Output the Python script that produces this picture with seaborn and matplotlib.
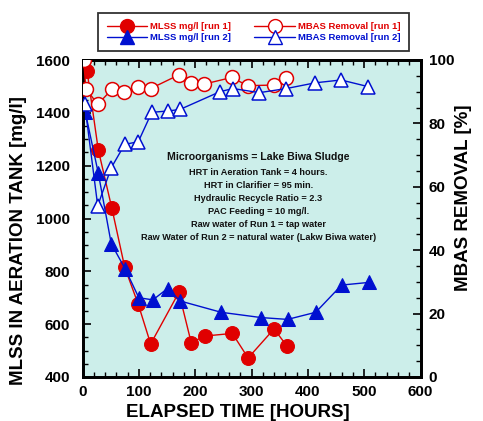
import matplotlib
matplotlib.use("Agg")
import matplotlib.pyplot as plt
import seaborn as sns
import pandas as pd
from matplotlib.ticker import MultipleLocator
from matplotlib.lines import Line2D

# ---- data ----
mlss1_t = [8, 28, 52, 75, 99, 121, 171, 193, 217, 266, 294, 340, 363]
mlss1_v = [1560, 1260, 1040, 815, 675, 525, 720, 530, 555, 565, 472, 582, 517]

mlss2_t = [5, 28, 51, 76, 100, 125, 151, 173, 246, 317, 364, 414, 460, 508]
mlss2_v = [1402, 1172, 905, 808, 700, 692, 735, 688, 645, 625, 618, 645, 748, 758]

mbas1_t = [2, 6, 27, 52, 74, 98, 121, 171, 193, 216, 265, 293, 340, 361]
mbas1_v = [100, 91, 86, 90.7, 89.8, 91.4, 91, 95.3, 92.9, 92.4, 94.5, 91.9, 92.1, 94.4]

mbas2_t = [4, 27, 51, 75, 99, 123, 151, 173, 244, 267, 314, 362, 413, 459, 507]
mbas2_v = [86, 54, 66, 73.4, 74.2, 83.5, 83.9, 84.4, 90, 91, 89.7, 91, 92.8, 93.7, 91.6]

labels = ["MLSS mg/l [run 1]", "MLSS mg/l [run 2]", "MBAS Removal [run 1]", "MBAS Removal [run 2]"]

notes = ["HRT in Aeration Tank = 4 hours.",
         "HRT in Clarifier = 95 min.",
         "Hydraulic Recycle Ratio = 2.3",
         "PAC Feeding = 10 mg/l.",
         "Raw water of Run 1 = tap water",
         "Raw Water of Run 2 = natural water (Lakw Biwa water)"]
title_note = "Microorganisms = Lake Biwa Sludge"

RED = "#E00000"
BLUE = "#0010D0"
BG = "#CCEEEA"

sns.set_style("ticks")
plt.rcParams['font.family'] = ['Liberation Sans', 'DejaVu Sans']
plt.rcParams['font.weight'] = 'bold'
plt.rcParams['text.color'] = 'black'
plt.rcParams['axes.labelcolor'] = 'black'
plt.rcParams['xtick.color'] = 'black'
plt.rcParams['ytick.color'] = 'black'

fig = plt.figure(figsize=(4.83, 4.21), dpi=100)
ax = fig.add_axes([82.5/483, 1-377/421, (420.5-82.5)/483, (377-60)/421])
ax2 = ax.twinx()
ax.set_facecolor(BG)

df1 = pd.DataFrame({"t": mlss1_t, "v": mlss1_v})
df2 = pd.DataFrame({"t": mlss2_t, "v": mlss2_v})
df3 = pd.DataFrame({"t": mbas1_t, "v": mbas1_v})
df4 = pd.DataFrame({"t": mbas2_t, "v": mbas2_v})

sns.lineplot(data=df1, x="t", y="v", ax=ax, sort=False, estimator=None, color=RED, lw=1.0,
             marker="o", markersize=10, markerfacecolor=RED, markeredgecolor=RED, zorder=3)
sns.lineplot(data=df2, x="t", y="v", ax=ax, sort=False, estimator=None, color=BLUE, lw=1.0,
             marker="^", markersize=9.5, markerfacecolor=BLUE, markeredgecolor=BLUE, zorder=4)
sns.lineplot(data=df3, x="t", y="v", ax=ax2, sort=False, estimator=None, color=RED, lw=1.0,
             marker="o", markersize=10, markerfacecolor="white", markeredgecolor=RED,
             markeredgewidth=1.1, zorder=3)
sns.lineplot(data=df4, x="t", y="v", ax=ax2, sort=False, estimator=None, color=BLUE, lw=1.0,
             marker="^", markersize=9.5, markerfacecolor="white", markeredgecolor=BLUE,
             markeredgewidth=1.1, zorder=4)

ax.set_xlim(0, 600)
ax.set_ylim(400, 1600)
ax2.set_ylim(0, 100)

ax.xaxis.set_major_locator(MultipleLocator(100))
ax.xaxis.set_minor_locator(MultipleLocator(20))
ax.yaxis.set_major_locator(MultipleLocator(200))
ax.yaxis.set_minor_locator(MultipleLocator(50))
ax2.yaxis.set_major_locator(MultipleLocator(20))
ax2.yaxis.set_minor_locator(MultipleLocator(5))

ax.tick_params(axis='x', which='both', direction='in', top=True, bottom=True)
ax.tick_params(axis='y', which='both', direction='in', left=True, right=False)
ax.tick_params(which='major', length=6, width=1.2, labelsize=11, colors='black')
ax.tick_params(axis='y', which='major', pad=9)
ax.tick_params(axis='x', which='major', pad=6)
ax.tick_params(which='minor', length=3.5, width=1.0, colors='black')
ax2.tick_params(which='major', direction='in', length=6, width=1.2, labelsize=11, pad=6, colors='black')
ax2.tick_params(which='minor', direction='in', length=3.5, width=1.0, colors='black')
for lab in ax.get_xticklabels() + ax.get_yticklabels() + ax2.get_yticklabels():
    lab.set_fontweight('bold')

for a in (ax, ax2):
    for s in a.spines.values():
        s.set_linewidth(2)
        s.set_color('black')

ax.set_xlabel("ELAPSED TIME [HOURS]", fontsize=13.5, fontweight='bold', color='black')
ax.set_ylabel("MLSS IN AERATION TANK [mg/l]", fontsize=13.5, fontweight='bold', color='black')
ax2.set_ylabel("MBAS REMOVAL [%]", fontsize=13.5, fontweight='bold', color='black')
ax.xaxis.set_label_coords(0.46, -0.085)
ax.yaxis.set_label_coords(-0.165, 0.43)
ax2.yaxis.set_label_coords(1.102, 0.565)

ax.text(0.52, 0.695, title_note, transform=ax.transAxes, ha='center', va='center',
        fontsize=7.6, fontweight='bold', color='#111111', zorder=5)
for i, line in enumerate(notes):
    ax.text(0.52, 0.645 - i*0.041, line, transform=ax.transAxes, ha='center', va='center',
            fontsize=6.6, fontweight='bold', color='#111111', zorder=5)

handles = [
    Line2D([], [], color=RED, lw=1.0, marker='o', markersize=10, markerfacecolor=RED, markeredgecolor=RED),
    Line2D([], [], color=BLUE, lw=1.0, marker='^', markersize=9.5, markerfacecolor=BLUE, markeredgecolor=BLUE),
    Line2D([], [], color=RED, lw=1.0, marker='o', markersize=10, markerfacecolor='white', markeredgecolor=RED),
    Line2D([], [], color=BLUE, lw=1.0, marker='^', markersize=9.5, markerfacecolor='white', markeredgecolor=BLUE),
]
leg = fig.legend(handles, labels, ncol=2, loc='center', bbox_to_anchor=(253.5/483, 1-32/421),
                 frameon=True, fancybox=False, edgecolor='black',
                 handlelength=4.3, labelspacing=0.2, columnspacing=2.5, borderpad=0.95,
                 borderaxespad=0, handletextpad=0.3, prop={'weight': 'bold', 'size': 6.8})
leg.get_frame().set_linewidth(1.3)
cols = [RED, BLUE, RED, BLUE]
for t, c in zip(leg.get_texts(), cols):
    t.set_color(c)

fig.savefig("out.png", dpi=100)
